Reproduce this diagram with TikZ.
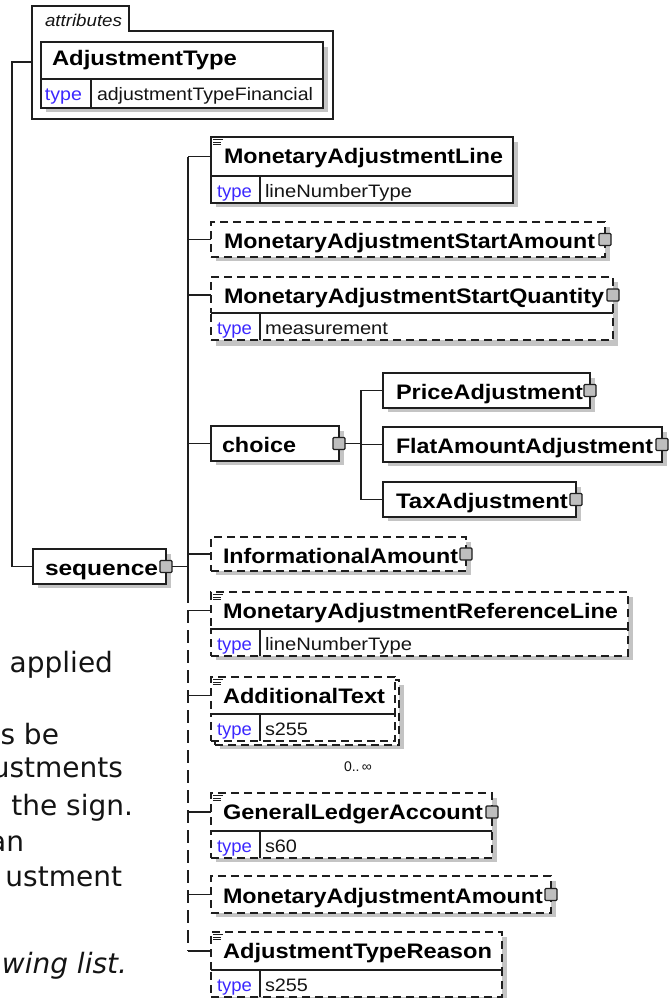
\documentclass[tikz,border=0pt]{standalone}
\usepackage{fontspec}
\setmainfont{Liberation Sans}
\newfontfamily\verd{DejaVu Sans}
\usepackage{graphicx}
\definecolor{ln}{RGB}{30,30,30}
\definecolor{shd}{RGB}{196,196,196}
\definecolor{sqf}{RGB}{190,190,190}
\definecolor{typec}{RGB}{60,40,255}
\definecolor{txt}{RGB}{20,20,20}
\newcommand{\fitw}[2]{\resizebox{#1pt}{\height}{#2}}
\newcommand{\nm}{\fontsize{21}{24}\selectfont\bfseries}
\newcommand{\rw}{\fontsize{18}{21}\selectfont}
\newcommand{\lt}{\verd\fontsize{28}{32}\selectfont}
\begin{document}
\begin{tikzpicture}[x=1pt,y=-1pt,
  every node/.style={inner sep=0pt, outer sep=0pt},
  box/.style={draw=ln, line width=1.2pt, fill=white, anchor=north west},
  optbox/.style={box, dash pattern=on 8pt off 5pt},
  sqr/.style={draw=ln, line width=1.1pt, fill=sqf, minimum size=12pt, rounded corners=1pt},
  conn/.style={draw=ln, line width=1.2pt},
  nmtext/.style={anchor=base west, text=black, font=\nm},
  lefttext/.style={anchor=base east, text=txt, font=\lt}
]
\useasboundingbox (0,0) rectangle (671,998);

\newcommand{\shd}[4]{\fill[shd] (#1+5,#2+5) rectangle (#3+5,#4+4);}
\newcommand{\typerow}[7]{%
  \node[#1, minimum width=#5pt, minimum height=27pt] (#2) at (#3,#4) {};
  \draw[conn] (#3+49,#4) -- (#3+49,#4+27);
  \node[anchor=base west, font=\rw, text=typec] (#2-k) at (#3+6,#4+21) {\fitw{35}{type}};
  \node[anchor=base west, font=\rw, text=txt] (#2-v) at (#3+54,#4+21) {\fitw{#7}{#6}};
}
\newcommand{\docicon}[2]{\draw[ln, line width=0.8pt] (#1+2,#2+2.5) -- ++(10,0) (#1+2,#2+5) -- ++(8,0) (#1+2,#2+7.5) -- ++(8,0);}

% ---------- attributes group ----------
\draw[ln, line width=1.1pt] (32,119) -- (32,6) -- (129,6) -- (129,31) -- (333,31) -- (333,119) -- cycle;
\node[anchor=base west, font=\fontsize{17}{20}\selectfont\itshape, text=txt] (attrlbl) at (45,27) {\fitw{77}{attributes}};
\coordinate (attrL) at (32,62);
\shd{41}{42}{323}{108}
\node[box, minimum width=282pt, minimum height=37pt] (AdjT) at (41,42) {};
\node[nmtext] (AdjT-l) at (52,66) {\fitw{185}{AdjustmentType}};
\node[box, minimum width=282pt, minimum height=29pt] (AdjT-t) at (41,79) {};
\draw[conn] (91,79) -- (91,108);
\node[anchor=base west, font=\rw, text=typec] (AdjT-k) at (45,100) {\fitw{37}{type}};
\node[anchor=base west, font=\rw, text=txt] (AdjT-v) at (97,100) {\fitw{216}{adjustmentTypeFinancial}};

% ---------- sequence ----------
\shd{33}{549}{166}{584}
\node[box, minimum width=133pt, minimum height=35pt] (seq) at (33,549) {};
\node[nmtext] (seq-l) at (45,575) {\fitw{113}{sequence}};
\node[sqr] (seq-s) at (166,566.5) {};
\coordinate (lx) at (12,62);
\draw[conn] (attrL) -- (lx) |- (seq.west);

% ---------- trunk ----------
\coordinate (tk) at (188,0);
\coordinate (tkB) at (188,590);

% MonetaryAdjustmentLine
\shd{211}{137}{513}{203}
\node[box, minimum width=302pt, minimum height=39pt] (MAL) at (211,137) {};
\typerow{box}{MAL-t}{211}{176}{302}{lineNumberType}{147}
\docicon{211}{137}
\node[nmtext] (MAL-l) at (224,163) {\fitw{279}{MonetaryAdjustmentLine}};

% MonetaryAdjustmentStartAmount
\shd{211}{222}{605}{257}
\node[optbox, minimum width=394pt, minimum height=35pt] (MASA) at (211,222) {};
\node[nmtext] (MASA-l) at (224,248) {\fitw{371}{MonetaryAdjustmentStartAmount}};
\node[sqr] (MASA-s) at (605,239.5) {};

% MonetaryAdjustmentStartQuantity
\shd{211}{277}{613}{342}
\node[optbox, minimum width=402pt, minimum height=36pt] (MASQ) at (211,277) {};
\typerow{optbox}{MASQ-t}{211}{313}{402}{measurement}{123}
\draw[conn] (211,313) -- (613,313);
\node[nmtext] (MASQ-l) at (224,303) {\fitw{380}{MonetaryAdjustmentStartQuantity}};
\node[sqr] (MASQ-s) at (613,295) {};

% choice
\shd{211}{426}{339}{461}
\node[box, minimum width=128pt, minimum height=35pt] (ch) at (211,426) {};
\node[nmtext] (ch-l) at (222,452) {\fitw{74}{choice}};
\node[sqr] (ch-s) at (339,443.5) {};
\coordinate (cb) at (361,443.5);

\shd{383}{373}{590}{408}
\node[box, minimum width=207pt, minimum height=35pt] (PA) at (383,373) {};
\node[nmtext] (PA-l) at (396,399) {\fitw{187}{PriceAdjustment}};
\node[sqr] (PA-s) at (590,390.5) {};

\shd{383}{427}{662}{462}
\node[box, minimum width=279pt, minimum height=35pt] (FAA) at (383,427) {};
\node[nmtext] (FAA-l) at (396,453) {\fitw{257}{FlatAmountAdjustment}};
\node[sqr] (FAA-s) at (662,444.5) {};

\shd{383}{482}{576}{517}
\node[box, minimum width=193pt, minimum height=35pt] (TA) at (383,482) {};
\node[nmtext] (TA-l) at (396,508) {\fitw{172}{TaxAdjustment}};
\node[sqr] (TA-s) at (576,499.5) {};

\draw[conn] (ch-s.east) -- (ch-s.east -| cb);
\draw[conn] (PA.west) -| (cb) |- (TA.west);
\draw[conn] (FAA.west) -- (FAA.west -| cb);

% InformationalAmount
\shd{211}{537}{466}{571}
\node[optbox, minimum width=255pt, minimum height=34pt] (IA) at (211,537) {};
\node[nmtext] (IA-l) at (223,563) {\fitw{235}{InformationalAmount}};
\node[sqr] (IA-s) at (466,554) {};

% MonetaryAdjustmentReferenceLine
\shd{211}{592}{628}{656}
\node[optbox, minimum width=417pt, minimum height=37pt] (MARL) at (211,592) {};
\typerow{optbox}{MARL-t}{211}{629}{417}{lineNumberType}{147}
\draw[conn] (211,629) -- (628,629);
\docicon{211}{592}
\node[nmtext] (MARL-l) at (223,618) {\fitw{395}{MonetaryAdjustmentReferenceLine}};

% AdditionalText (multiple)
\shd{215}{680}{399}{745}
\node[optbox, minimum width=184pt, minimum height=65pt] (AT-b) at (215,680) {};
\node[optbox, minimum width=184pt, minimum height=37pt] (AT) at (211,677) {};
\typerow{optbox}{AT-t}{211}{714}{184}{s255}{43}
\draw[conn] (211,714) -- (395,714);
\docicon{211}{677}
\node[nmtext] (AT-l) at (223,703) {\fitw{162}{AdditionalText}};
\node[font=\fontsize{14}{16}\selectfont, text=txt] (occ) at (358,767) {0..\,∞};

% GeneralLedgerAccount
\shd{211}{793}{492}{858}
\node[optbox, minimum width=281pt, minimum height=38pt] (GLA) at (211,793) {};
\typerow{optbox}{GLA-t}{211}{831}{281}{s60}{32}
\draw[conn] (211,831) -- (492,831);
\docicon{211}{793}
\node[nmtext] (GLA-l) at (223,819) {\fitw{260}{GeneralLedgerAccount}};
\node[sqr] (GLA-s) at (492,812) {};

% MonetaryAdjustmentAmount
\shd{211}{876}{551}{913}
\node[optbox, minimum width=340pt, minimum height=37pt] (MAA) at (211,876) {};
\node[nmtext] (MAA-l) at (223,903) {\fitw{320}{MonetaryAdjustmentAmount}};
\node[sqr] (MAA-s) at (551,894.5) {};

% AdjustmentTypeReason
\shd{211}{932}{502}{997}
\node[optbox, minimum width=291pt, minimum height=38pt] (ATR) at (211,932) {};
\typerow{optbox}{ATR-t}{211}{970}{291}{s255}{43}
\draw[conn] (211,970) -- (502,970);
\docicon{211}{932}
\node[nmtext] (ATR-l) at (223,958) {\fitw{269}{AdjustmentTypeReason}};

% trunk lines and stubs
\draw[conn] (MAL.west -| tk) -- (tkB);
\draw[conn, dash pattern=on 13pt off 7pt] (tkB) -- (ATR.west -| tk);
\draw[conn] (seq-s.east) -- (seq-s.east -| tk);
\foreach \n in {MAL,MASA,MASQ,ch,IA,MARL,AT,GLA,MAA,ATR}
  \draw[conn] (\n.west) -- (\n.west -| tk);

% ---------- background page text ----------
\node[lefttext] (t1) at (113,672) {applied};
\node[lefttext] (t2) at (59,744) {s be};
\node[lefttext] (t3) at (123,777) {ustments};
\node[lefttext] (t4) at (133,815) {the sign.};
\node[lefttext] (t5) at (24,851) {an};
\node[lefttext] (t6) at (122,886) {ustment};
\node[lefttext, font=\lt\itshape] (t7) at (127,973) {wing list.};
\end{tikzpicture}
\end{document}
